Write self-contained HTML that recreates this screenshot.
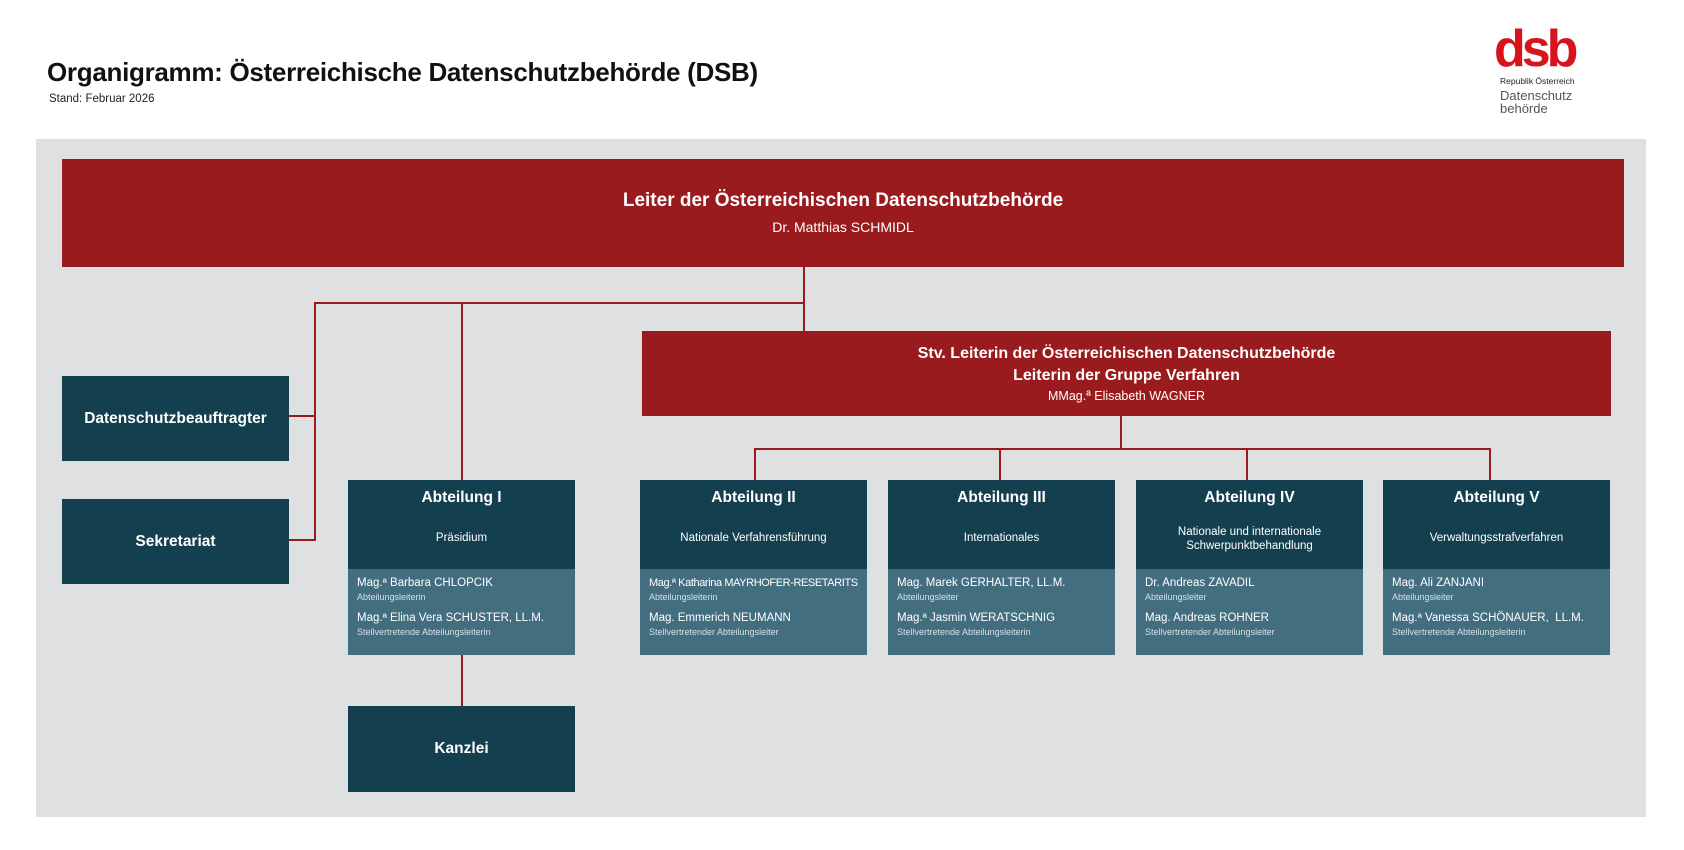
<!DOCTYPE html>
<html><head><meta charset="utf-8"><style>
*{margin:0;padding:0;box-sizing:border-box}
body{width:1684px;height:850px;background:#fff;position:relative;font-family:"Liberation Sans",sans-serif;overflow:hidden}
.a{position:absolute}
.red{background:#991b1d;color:#fff;text-align:center}
.dk{background:#133f4e;color:#fff}
.ln{position:absolute;background:#9a1b1d}
.box{position:absolute;width:227px}
.box .t{height:89px;background:#133f4e;color:#fff;text-align:center;position:relative}
.box .t .h{position:absolute;top:9px;left:0;right:0;font-size:15.5px;font-weight:bold}
.box .t .s{position:absolute;top:46px;left:0;right:0;font-size:11.5px;line-height:14px}
.box .b{height:86px;background:#436e80;color:#fff;padding:7px 9px 0 9px}
.n{font-size:11.5px;white-space:nowrap;line-height:15px}
.r{font-size:9px;color:#d6e0e5;line-height:13px;margin-bottom:7px;white-space:nowrap}
.c{display:flex;align-items:center;justify-content:center;font-weight:bold;font-size:15.5px}
</style></head><body>
<div class="a" style="left:47px;top:57px;font-size:26px;font-weight:bold;color:#111;letter-spacing:-0.3px">Organigramm: Österreichische Datenschutzbehörde (DSB)</div>
<div class="a" style="left:49px;top:93px;font-size:11.5px;color:#222">Stand: Februar 2026</div>
<div class="a" style="left:1494px;top:22px;font-size:52px;font-weight:900;color:#d7141e;letter-spacing:-4px;line-height:54px">dsb</div>
<div class="a" style="left:1500px;top:76px;font-size:8.5px;color:#222">Republik Österreich</div>
<div class="a" style="left:1500px;top:89px;font-size:13px;color:#555;line-height:13px">Datenschutz<br>behörde</div>

<div class="a" style="left:36px;top:139px;width:1610px;height:678px;background:#dfe0e2"></div>

<div class="a red" style="left:62px;top:159px;width:1562px;height:108px">
<div style="position:absolute;top:31px;left:0;right:0;font-size:19px;font-weight:bold">Leiter der Österreichischen Datenschutzbehörde</div>
<div style="position:absolute;top:60px;left:0;right:0;font-size:14px">Dr. Matthias SCHMIDL</div></div>

<div class="ln" style="left:803px;top:267px;width:2px;height:64px"></div>
<div class="ln" style="left:314px;top:302px;width:491px;height:2px"></div>
<div class="ln" style="left:461px;top:302px;width:2px;height:178px"></div>
<div class="ln" style="left:314px;top:302px;width:2px;height:239px"></div>
<div class="ln" style="left:289px;top:415px;width:27px;height:2px"></div>
<div class="ln" style="left:289px;top:539px;width:27px;height:2px"></div>
<div class="ln" style="left:461px;top:654px;width:2px;height:52px"></div>

<div class="a dk c" style="left:62px;top:376px;width:227px;height:85px">Datenschutzbeauftragter</div>
<div class="a dk c" style="left:62px;top:499px;width:227px;height:85px">Sekretariat</div>
<div class="a dk c" style="left:348px;top:706px;width:227px;height:86px">Kanzlei</div>

<div class="a red" style="left:642px;top:331px;width:969px;height:85px">
<div style="position:absolute;top:12px;left:0;right:0;font-size:16px;font-weight:bold;line-height:22px">Stv. Leiterin der Österreichischen Datenschutzbehörde<br>Leiterin der Gruppe Verfahren</div>
<div style="position:absolute;top:58px;left:0;right:0;font-size:12.5px">MMag.ª Elisabeth WAGNER</div></div>

<div class="ln" style="left:1120px;top:416px;width:2px;height:34px"></div>
<div class="ln" style="left:754px;top:448px;width:737px;height:2px"></div>
<div class="ln" style="left:754px;top:448px;width:2px;height:32px"></div>
<div class="ln" style="left:999px;top:448px;width:2px;height:32px"></div>
<div class="ln" style="left:1246px;top:448px;width:2px;height:32px"></div>
<div class="ln" style="left:1489px;top:448px;width:2px;height:32px"></div>

<div class="box" style="left:348px;top:480px"><div class="t"><div class="h">Abteilung I</div><div class="s" style="top:51px">Präsidium</div></div>
<div class="b"><div class="n">Mag.ª Barbara CHLOPCIK</div><div class="r">Abteilungsleiterin</div><div class="n">Mag.ª Elina Vera SCHUSTER, LL.M.</div><div class="r">Stellvertretende Abteilungsleiterin</div></div></div>

<div class="box" style="left:640px;top:480px"><div class="t"><div class="h">Abteilung II</div><div class="s" style="top:51px">Nationale Verfahrensführung</div></div>
<div class="b"><div class="n" style="font-size:11px;letter-spacing:-0.4px">Mag.ª Katharina MAYRHOFER-RESETARITS</div><div class="r">Abteilungsleiterin</div><div class="n">Mag. Emmerich NEUMANN</div><div class="r">Stellvertretender Abteilungsleiter</div></div></div>

<div class="box" style="left:888px;top:480px"><div class="t"><div class="h">Abteilung III</div><div class="s" style="top:51px">Internationales</div></div>
<div class="b"><div class="n">Mag. Marek GERHALTER, LL.M.</div><div class="r">Abteilungsleiter</div><div class="n">Mag.ª Jasmin WERATSCHNIG</div><div class="r">Stellvertretende Abteilungsleiterin</div></div></div>

<div class="box" style="left:1136px;top:480px"><div class="t"><div class="h">Abteilung IV</div><div class="s" style="top:45px">Nationale und internationale<br>Schwerpunktbehandlung</div></div>
<div class="b"><div class="n">Dr. Andreas ZAVADIL</div><div class="r">Abteilungsleiter</div><div class="n">Mag. Andreas ROHNER</div><div class="r">Stellvertretender Abteilungsleiter</div></div></div>

<div class="box" style="left:1383px;top:480px"><div class="t"><div class="h">Abteilung V</div><div class="s" style="top:51px">Verwaltungsstrafverfahren</div></div>
<div class="b"><div class="n">Mag. Ali ZANJANI</div><div class="r">Abteilungsleiter</div><div class="n">Mag.ª Vanessa SCHÖNAUER,&nbsp; LL.M.</div><div class="r">Stellvertretende Abteilungsleiterin</div></div></div>
</body></html>
